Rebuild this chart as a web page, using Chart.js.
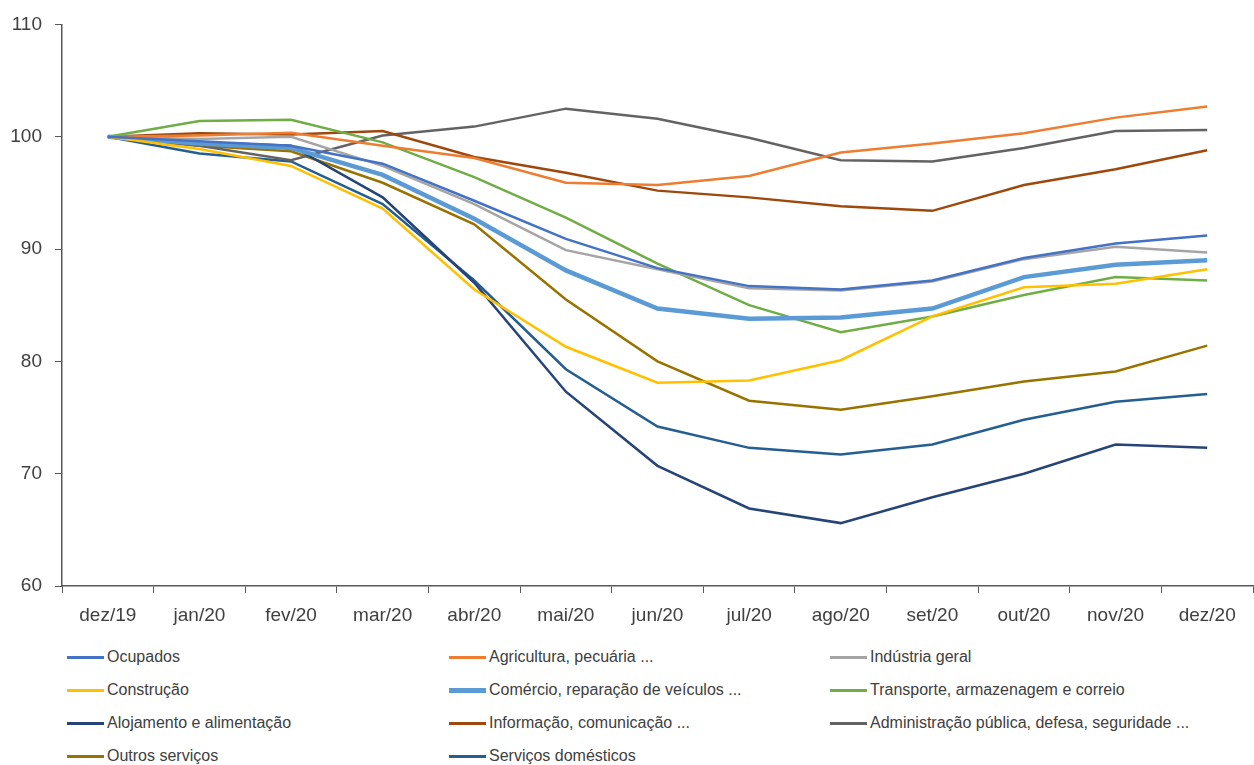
<!DOCTYPE html>
<html lang="pt">
<head>
    <meta charset="UTF-8">
    <title>Ocupados por atividade</title>
    <script src="https://cdn.jsdelivr.net/npm/chart.js"></script>
    <style>
        body { margin: 0; background: #fff; font-family: "Liberation Sans", Arial, sans-serif; }
        #wrap { position: relative; width: 1254px; height: 765px; }
        #chart { position: absolute; left: 0; top: 0; }
        #legend { position: absolute; left: 0; top: 640px; width: 1254px; }
        .item { position: absolute; display: flex; align-items: center; font-size: 16px; color: #404040; white-space: nowrap; }
        .item span.line { display: inline-block; width: 37px; margin-right: 3px; }
    </style>
</head>
<body>
<div id="wrap">
    <canvas id="chart" width="1254" height="640"></canvas>
    <div id="legend"></div>
</div>
<script>
    // categories
    const months = ['dez/19', 'jan/20', 'fev/20', 'mar/20', 'abr/20', 'mai/20', 'jun/20',
                    'jul/20', 'ago/20', 'set/20', 'out/20', 'nov/20', 'dez/20'];

    // series (index, dez/19 = 100)
    const ocupados      = [100, 99.6, 99.2, 97.6, 94.3, 90.9, 88.3, 86.7, 86.4, 87.2, 89.2, 90.5, 91.2];
    const agricultura   = [100, 100.1, 100.35, 99.2, 98.1, 95.9, 95.7, 96.5, 98.6, 99.4, 100.3, 101.7, 102.7];
    const industria     = [100, 99.8, 100.0, 97.4, 94.0, 89.9, 88.2, 86.5, 86.3, 87.1, 89.1, 90.2, 89.7];
    const construcao    = [100, 98.9, 97.4, 93.6, 86.4, 81.3, 78.1, 78.3, 80.1, 84.0, 86.6, 86.9, 88.2];
    const comercio      = [100, 99.4, 99.0, 96.6, 92.7, 88.1, 84.7, 83.8, 83.9, 84.7, 87.5, 88.6, 89.0];
    const transporte    = [100, 101.4, 101.5, 99.5, 96.4, 92.8, 88.7, 85.0, 82.6, 84.0, 85.9, 87.5, 87.2];
    const alojamento    = [100, 99.5, 99.2, 94.6, 87.0, 77.3, 70.7, 66.9, 65.6, 67.9, 70.0, 72.6, 72.3];
    const informacao    = [100, 100.3, 100.2, 100.5, 98.2, 96.8, 95.2, 94.6, 93.8, 93.4, 95.7, 97.1, 98.8];
    const administracao = [100, 99.2, 97.9, 100.1, 100.9, 102.5, 101.6, 99.9, 97.9, 97.8, 99.0, 100.5, 100.6];
    const outros        = [100, 99.2, 98.7, 95.9, 92.2, 85.5, 80.0, 76.5, 75.7, 76.9, 78.2, 79.1, 81.4];
    const domesticos    = [100, 98.5, 97.8, 94.0, 87.2, 79.3, 74.2, 72.3, 71.7, 72.6, 74.8, 76.4, 77.1];

    // y axis ticks
    const yTicks = [60, 70, 80, 90, 100, 110];

    const series = [
        { label: 'Ocupados', data: ocupados, color: '#4472C4', width: 2.5 },
        { label: 'Agricultura, pecuária ...', data: agricultura, color: '#ED7D31', width: 2.5 },
        { label: 'Indústria geral', data: industria, color: '#A5A5A5', width: 2.5 },
        { label: 'Construção', data: construcao, color: '#FFC000', width: 2.5 },
        { label: 'Comércio, reparação de veículos ...', data: comercio, color: '#5B9BD5', width: 4.5 },
        { label: 'Transporte, armazenagem  e correio', data: transporte, color: '#70AD47', width: 2.5 },
        { label: 'Alojamento e alimentação', data: alojamento, color: '#264478', width: 2.5 },
        { label: 'Informação, comunicação ...', data: informacao, color: '#9E480E', width: 2.5 },
        { label: 'Administração pública, defesa, seguridade ...', data: administracao, color: '#636363', width: 2.5 },
        { label: 'Outros serviços', data: outros, color: '#997300', width: 2.5 },
        { label: 'Serviços domésticos', data: domesticos, color: '#255E91', width: 2.5 }
    ];

    const axisColor = '#595959';
    const textColor = '#404040';

    const chart = new Chart(document.getElementById('chart'), {
        type: 'line',
        data: {
            labels: months,
            datasets: series.map(s => ({
                label: s.label,
                data: s.data,
                borderColor: s.color,
                backgroundColor: s.color,
                borderWidth: s.width,
                pointRadius: 0,
                tension: 0,
                fill: false
            }))
        },
        options: {
            responsive: false,
            animation: false,
            layout: { padding: { top: 19, right: 1, left: 0, bottom: 0 } },
            plugins: { legend: { display: false }, tooltip: { enabled: false } },
            scales: {
                x: {
                    offset: true,
                    grid: { offset: true, drawOnChartArea: false, drawTicks: true, tickLength: 7, color: axisColor },
                    border: { color: axisColor, width: 1.5 },
                    ticks: { color: textColor, padding: 11, font: { size: 19, family: '"Liberation Sans", Arial' }, maxRotation: 0 },
                    afterFit: s => { s.height = 54; }
                },
                y: {
                    min: yTicks[0],
                    max: yTicks[yTicks.length - 1],
                    afterBuildTicks: s => { s.ticks = yTicks.map(v => ({ value: v })); },
                    grid: { drawOnChartArea: false, drawTicks: true, tickLength: 7, color: axisColor },
                    border: { color: axisColor, width: 1.5 },
                    ticks: { color: textColor, padding: 13, font: { size: 19, family: '"Liberation Sans", Arial' } },
                    afterFit: s => { s.width = 62; }
                }
            }
        }
    });

    // legend in three columns, row by row
    const legend = document.getElementById('legend');
    const colX = [67, 449, 830];
    series.forEach((s, i) => {
        const item = document.createElement('div');
        item.className = 'item';
        item.style.left = colX[i % 3] + 'px';
        item.style.top = (8 + Math.floor(i / 3) * 33) + 'px';
        const line = document.createElement('span');
        line.className = 'line';
        line.style.borderTop = (s.width > 3 ? 5 : 3) + 'px solid ' + s.color;
        item.appendChild(line);
        item.appendChild(document.createTextNode(s.label));
        legend.appendChild(item);
    });
</script>
</body>
</html>
